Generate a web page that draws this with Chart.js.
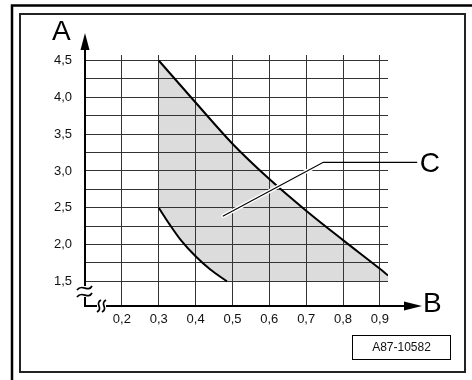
<!DOCTYPE html>
<html>
<head>
<meta charset="utf-8">
<script src="https://cdn.jsdelivr.net/npm/chart.js@4/dist/chart.umd.min.js"></script>
<style>
  html, body { margin: 0; padding: 0; background: #fff; }
  canvas { display: block; background: #fff; }
</style>
</head>
<body>
<canvas id="c" width="472" height="380"></canvas>
<script>
// ---- data ----
const xTickValues = [0.2, 0.3, 0.4, 0.5, 0.6, 0.7, 0.8, 0.9];
const xTickLabels = ['0,2', '0,3', '0,4', '0,5', '0,6', '0,7', '0,8', '0,9'];
const yGridValues = [1.5, 1.75, 2.0, 2.25, 2.5, 2.75, 3.0, 3.25, 3.5, 3.75, 4.0, 4.25, 4.5];
const yLabelValues = [1.5, 2.0, 2.5, 3.0, 3.5, 4.0, 4.5];
const yTickLabels = ['1,5', '2,0', '2,5', '3,0', '3,5', '4,0', '4,5'];
const upperCurve = [[0.3, 4.5], [0.4, 3.93], [0.5, 3.37], [0.6, 2.89], [0.7, 2.46], [0.8, 2.06], [0.9, 1.67], [0.922, 1.58]];
const lowerCurve = [[0.3, 2.5], [0.33, 2.27], [0.36, 2.06], [0.4, 1.84], [0.44, 1.66], [0.485, 1.5]];
const regionFloor = [[0.922, 1.5]];
const leaderC = [[0.475, 2.387], [0.7465, 3.117], [1.0, 3.117]];
const axisTitleX = 'B';
const axisTitleY = 'A';
const regionLabel = 'C';
const figureId = 'A87-10582';

const FONT = '"Liberation Sans", Arial, sans-serif';
const toXY = arr => arr.map(p => ({ x: p[0], y: p[1] }));
const near = (a, b) => Math.abs(a - b) < 1e-6;

const decor = {
  id: 'decor',
  afterDraw(chart) {
    const ctx = chart.ctx;
    const xs = chart.scales.x, ys = chart.scales.y;
    const ca = chart.chartArea;
    const ax = Math.round(ca.left), ay = Math.round(ca.bottom);
    ctx.save();

    // leader line for C
    const pts = leaderC.map(p => [xs.getPixelForValue(p[0]), ys.getPixelForValue(p[1])]);
    ctx.lineCap = 'round';
    ctx.strokeStyle = '#fff';
    ctx.lineWidth = 4;
    ctx.beginPath();
    ctx.moveTo(pts[0][0], pts[0][1]);
    ctx.lineTo(pts[1][0], pts[1][1]);
    ctx.stroke();
    ctx.strokeStyle = '#000';
    ctx.lineWidth = 1.2;
    ctx.beginPath();
    pts.forEach((p, i) => i ? ctx.lineTo(p[0], p[1]) : ctx.moveTo(p[0], p[1]));
    ctx.stroke();
    ctx.lineCap = 'butt';

    // frames
    ctx.strokeStyle = '#000';
    ctx.lineWidth = 2.5;
    ctx.beginPath();
    ctx.moveTo(12, 380); ctx.lineTo(12, 5.5); ctx.lineTo(472, 5.5);
    ctx.stroke();
    ctx.strokeStyle = '#222';
    ctx.lineWidth = 2;
    ctx.strokeRect(20, 14, 445, 358);

    // axes
    ctx.strokeStyle = '#000';
    ctx.lineWidth = 2;
    ctx.beginPath();
    ctx.moveTo(ax, ay + 1); ctx.lineTo(ax, ay - 9);
    ctx.moveTo(ax, ay - 20); ctx.lineTo(ax, 44);
    ctx.moveTo(ax - 1, ay); ctx.lineTo(ax + 12, ay);
    ctx.moveTo(ax + 21, ay); ctx.lineTo(406, ay);
    ctx.stroke();

    // break symbols
    ctx.lineWidth = 1.8;
    [ay - 11, ay - 18].forEach(y => {
      ctx.beginPath();
      ctx.moveTo(ax - 8, y + 2);
      ctx.bezierCurveTo(ax - 3, y - 5, ax + 3, y + 5, ax + 7, y - 2);
      ctx.stroke();
    });
    [ax + 14, ax + 19].forEach(x => {
      ctx.beginPath();
      ctx.moveTo(x + 2, ay - 6);
      ctx.bezierCurveTo(x - 5, ay - 2, x + 5, ay + 2, x - 2, ay + 6);
      ctx.stroke();
    });

    // arrowheads
    ctx.fillStyle = '#000';
    ctx.beginPath();
    ctx.moveTo(ax, 33); ctx.lineTo(ax - 4.5, 50); ctx.lineTo(ax + 4.5, 50); ctx.closePath();
    ctx.fill();
    ctx.beginPath();
    ctx.moveTo(422, ay); ctx.lineTo(404, ay - 4.5); ctx.lineTo(404, ay + 4.5); ctx.closePath();
    ctx.fill();

    // big letters
    ctx.font = '28px ' + FONT;
    ctx.textAlign = 'left';
    ctx.textBaseline = 'alphabetic';
    ctx.fillText(axisTitleY, 52, 40);
    ctx.fillText(axisTitleX, 423, 312);
    ctx.fillText(regionLabel, pts[2][0] + 3, pts[2][1] + 10);

    // figure id box
    ctx.strokeStyle = '#000';
    ctx.lineWidth = 1;
    ctx.strokeRect(352.5, 335.5, 98, 24);
    ctx.font = '12px ' + FONT;
    ctx.textAlign = 'center';
    ctx.textBaseline = 'middle';
    ctx.fillStyle = '#111';
    ctx.fillText(figureId, 401.5, 348);
    ctx.restore();
  }
};

new Chart(document.getElementById('c'), {
  type: 'scatter',
  data: {
    datasets: [
      {
        // upper limit, filled down to the lower boundary (dataset 1)
        data: toXY(upperCurve),
        showLine: true,
        borderColor: '#000',
        borderWidth: 2,
        pointRadius: 0,
        cubicInterpolationMode: 'monotone',
        backgroundColor: '#dcdcdc',
        fill: { target: 1, above: '#dcdcdc', below: '#dcdcdc' }
      },
      {
        // lower boundary of region C (invisible)
        data: toXY(lowerCurve.concat(regionFloor)),
        showLine: true,
        borderWidth: 0,
        borderColor: 'rgba(0,0,0,0)',
        pointRadius: 0,
        tension: 0,
        fill: false
      },
      {
        // lower limit curve
        data: toXY(lowerCurve),
        showLine: true,
        borderColor: '#000',
        borderWidth: 2,
        pointRadius: 0,
        cubicInterpolationMode: 'monotone',
        fill: false
      }
    ]
  },
  options: {
    responsive: false,
    animation: false,
    events: [],
    layout: { padding: { top: 55, right: 84, left: 0, bottom: 0 } },
    plugins: {
      legend: { display: false },
      tooltip: { enabled: false },
      filler: { drawTime: 'beforeDraw' }
    },
    scales: {
      x: {
        type: 'linear',
        min: 0.1,
        max: 0.922,
        afterFit: s => { s.height = 74; },
        afterBuildTicks: s => { s.ticks = xTickValues.map(v => ({ value: v })); },
        border: { display: false },
        grid: { color: '#333', lineWidth: 1, drawTicks: false },
        ticks: {
          autoSkip: false,
          maxRotation: 0,
          padding: 6,
          color: '#111',
          font: { family: FONT, size: 13 },
          callback: v => {
            const i = xTickValues.findIndex(t => near(t, v));
            return i >= 0 ? xTickLabels[i] : '';
          }
        }
      },
      y: {
        type: 'linear',
        min: 1.165,
        max: 4.575,
        afterFit: s => { s.width = 85; },
        afterBuildTicks: s => { s.ticks = yGridValues.map(v => ({ value: v })); },
        border: { display: false },
        grid: { color: '#333', lineWidth: 1, drawTicks: false },
        ticks: {
          autoSkip: false,
          padding: 13,
          color: '#111',
          font: { family: FONT, size: 13 },
          callback: v => {
            const i = yLabelValues.findIndex(t => near(t, v));
            return i >= 0 ? yTickLabels[i] : '';
          }
        }
      }
    }
  },
  plugins: [decor]
});
</script>
</body>
</html>
